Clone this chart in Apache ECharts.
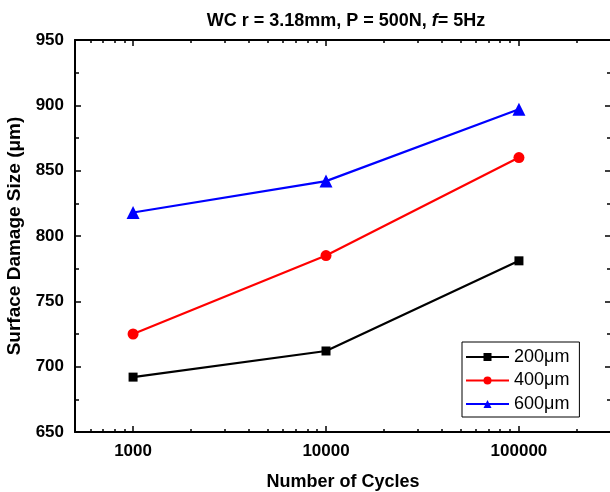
<!DOCTYPE html>
<html>
<head>
<meta charset="utf-8">
<script src="https://cdn.jsdelivr.net/npm/echarts@6/dist/echarts.min.js"></script>
<style>
  html, body { margin: 0; padding: 0; background: #fff; }
  #chart { width: 610px; height: 492px; }
</style>
</head>
<body>
<div id="chart"></div>
<script>
// data
const cycles = [1000, 10000, 100000];
const size200 = [692, 712, 781];
const size400 = [725, 785, 860];
const size600 = [818, 842, 897];

// log axis ticks
const majorTicks = [1000, 10000, 100000];
const minorTicks = [600, 700, 800, 900,
  2000, 3000, 4000, 5000, 6000, 7000, 8000, 9000,
  20000, 30000, 40000, 50000, 60000, 70000, 80000, 90000,
  200000];

const font = "'Liberation Sans', Arial, sans-serif";
const pairs = vals => cycles.map((c, i) => [c, vals[i]]);

const myChart = echarts.init(document.getElementById('chart'));

// helper for the extra x axes (top side + minor ticks)
function xAx(pos, ticks, len, line) {
  return {
    type: 'log',
    logBase: 10,
    position: pos,
    min: 500,
    max: 300000,
    axisLine: { show: line, lineStyle: { color: '#000', width: 2 } },
    axisTick: { show: true, inside: true, length: len, customValues: ticks, lineStyle: { color: '#000', width: 1.5 } },
    axisLabel: { show: false },
    splitLine: { show: false }
  };
}

const option = {
  backgroundColor: '#fff',
  animation: false,
  title: {
    left: 341,
    top: 7,
    textAlign: 'center',
    text: '{a|WC r = 3.18mm, P = 500N, }{i|f}{a|= 5Hz}',
    textStyle: {
      rich: {
        a: { fontFamily: font, fontWeight: 'bold', fontSize: 18, color: '#000' },
        i: { fontFamily: font, fontWeight: 'bold', fontStyle: 'italic', fontSize: 18, color: '#000' }
      }
    }
  },
  grid: { left: 75, top: 40, width: 536, height: 392, outerBoundsMode: 'none' },
  legend: {
    orient: 'vertical',
    left: 462,
    top: 342,
    padding: [5, 10, 3, 3],
    itemWidth: 43,
    itemHeight: 10,
    itemGap: 3.5,
    borderColor: '#000',
    borderWidth: 1,
    textStyle: { fontFamily: font, fontSize: 18, color: '#000', lineHeight: 20 },
    data: ['200μm', '400μm', '600μm']
  },
  xAxis: [
    {
      type: 'log',
      logBase: 10,
      position: 'bottom',
      min: 500,
      max: 300000,
      name: 'Number of Cycles',
      nameLocation: 'middle',
      nameGap: 41,
      nameTextStyle: { fontFamily: font, fontWeight: 'bold', fontSize: 18, color: '#000' },
      axisLine: { lineStyle: { color: '#000', width: 2 } },
      axisTick: { inside: true, length: 6, customValues: majorTicks, lineStyle: { color: '#000', width: 1.5 } },
      axisLabel: {
        customValues: majorTicks,
        margin: 11,
        fontFamily: font, fontWeight: 'bold', fontSize: 17, color: '#000',
        formatter: v => String(Math.round(v))
      },
      splitLine: { show: false }
    },
    xAx('bottom', minorTicks, 3, false),
    xAx('top', majorTicks, 6, true),
    xAx('top', minorTicks, 3, false)
  ],
  yAxis: [
    {
      type: 'value',
      position: 'left',
      min: 650,
      max: 950,
      interval: 50,
      name: 'Surface Damage Size (μm)',
      nameLocation: 'middle',
      nameGap: 43,
      nameTextStyle: { fontFamily: font, fontWeight: 'bold', fontSize: 19, color: '#000' },
      axisLine: { show: true, lineStyle: { color: '#000', width: 2 } },
      axisTick: { show: true, inside: true, length: 6, lineStyle: { color: '#000', width: 1.5 } },
      minorTick: { show: true, splitNumber: 2, length: 4, lineStyle: { color: '#000', width: 1.5 } },
      axisLabel: { margin: 11, fontFamily: font, fontWeight: 'bold', fontSize: 17, color: '#000' },
      splitLine: { show: false }
    },
    {
      type: 'value',
      position: 'right',
      min: 650,
      max: 950,
      interval: 50,
      axisLine: { show: true, lineStyle: { color: '#000', width: 2 } },
      axisTick: { show: true, inside: true, length: 6, lineStyle: { color: '#000', width: 1.5 } },
      minorTick: { show: true, splitNumber: 2, length: 4, lineStyle: { color: '#000', width: 1.5 } },
      axisLabel: { show: false },
      splitLine: { show: false }
    }
  ],
  series: [
    {
      name: '200μm',
      type: 'line',
      data: pairs(size200),
      symbol: 'rect',
      symbolSize: 9,
      color: '#000000',
      lineStyle: { width: 2.2, color: '#000000' }
    },
    {
      name: '400μm',
      type: 'line',
      data: pairs(size400),
      symbol: 'circle',
      symbolSize: 11,
      color: '#ff0000',
      lineStyle: { width: 2.2, color: '#ff0000' }
    },
    {
      name: '600μm',
      type: 'line',
      data: pairs(size600),
      symbol: 'triangle',
      symbolSize: 13,
      color: '#0000ff',
      lineStyle: { width: 2.2, color: '#0000ff' }
    }
  ]
};
myChart.setOption(option);
</script>
</body>
</html>
